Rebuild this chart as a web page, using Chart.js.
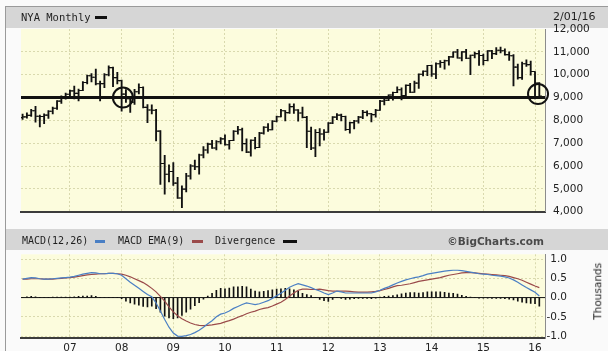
<!DOCTYPE html>
<html>
<head>
<meta charset="utf-8">
<script src="https://cdn.jsdelivr.net/npm/chart.js@4.4.1/dist/chart.umd.min.js"></script>
<style>
  html, body { margin:0; padding:0; background:#ffffff; }
  #page { position:relative; width:608px; height:351px; overflow:hidden; background:#fafafa; font-family:"DejaVu Sans", sans-serif; }
  .band { position:absolute; left:6px; width:602px; background:#d6d6d6; }
  .frameTop { position:absolute; left:5px; top:6px; width:603px; height:1px; background:#9a9a9a; }
  .frameLeft { position:absolute; left:5px; top:6px; width:1px; height:345px; background:#9a9a9a; }
  .txt { position:absolute; white-space:nowrap; line-height:1; color:#1e1e1e; }
  .mono { font-family:"DejaVu Sans Mono", monospace; }
  .dash { position:absolute; height:3px; }
  canvas { position:absolute; left:0; }
</style>
</head>
<body>
<div id="page">
  <div class="band" style="top:7px;height:21px;"></div>
  <div class="band" style="top:229px;height:21px;"></div>
  <div class="frameTop"></div>
  <div class="frameLeft"></div>
  <canvas id="priceChart" width="608" height="226" style="top:0px"></canvas>
  <canvas id="macdChart" width="608" height="106" style="top:245px"></canvas>

  <div class="txt mono" style="left:21px;top:12px;font-size:10.5px;">NYA Monthly</div>
  <div class="dash" style="left:95px;top:16px;width:12px;background:#111;"></div>
  <div class="txt" style="left:553px;top:11px;font-size:11px;">2/01/16</div>

  <div class="txt mono" style="left:22px;top:236px;font-size:10px;">MACD(12,26)</div>
  <div class="dash" style="left:95px;top:240px;width:10px;background:#4a7fc4;"></div>
  <div class="txt mono" style="left:118px;top:236px;font-size:10px;">MACD EMA(9)</div>
  <div class="dash" style="left:192px;top:240px;width:11px;background:#9a4a4a;"></div>
  <div class="txt mono" style="left:215px;top:236px;font-size:10px;">Divergence</div>
  <div class="dash" style="left:283px;top:240px;width:14px;background:#111;"></div>
  <div class="txt" style="right:64px;top:236px;font-size:10.5px;font-weight:bold;color:#4a4a4a;">©BigCharts.com</div>

  <div class="txt" style="left:569px;top:286px;width:57px;text-align:center;font-size:10.5px;transform:rotate(-90deg);transform-origin:center;">Thousands</div>
</div>

<script>
// ---------- DATA (monthly, Feb 2006 .. Feb 2016) ----------
const firstMonth = 1;               // month index of first bar (Jan 2006 = 0)
const yearTicks  = [12, 24, 36, 48, 60, 72, 84, 96, 108, 120];
const yearLabels = ['07','08','09','10','11','12','13','14','15','16'];
const priceTicks = [4000, 5000, 6000, 7000, 8000, 9000, 10000, 11000, 12000];
const macdTicks  = [-1.0, -0.5, 0.0, 0.5, 1.0];

const open = [
  8118, 8150, 8220, 8420, 8180, 8170, 8230, 8400, 8530, 8840, 9000,
  9140, 9290, 9180, 9310, 9660, 9950, 9890, 9600, 9610, 10000, 10310, 9870,
  9740, 9150, 8950, 8800, 9250, 9440, 8570, 8450, 8440, 7530, 6110, 5640,
  5760, 5250, 4600, 4990, 5560, 6000, 5970, 6480, 6700, 6960, 6790, 7060,
  7190, 6930, 7120, 7520, 7590, 6980, 6610, 7130, 6810, 7440, 7700, 7590,
  7960, 8160, 8420, 8340, 8600, 8450, 8320, 8130, 7520, 6790, 7470, 7400,
  7480, 7880, 8140, 8230, 8170, 7600, 7900, 7970, 8140, 8350, 8290, 8250,
  8440, 8840, 8880, 9110, 9220, 9340, 9090, 9530, 9230, 9630, 10020, 10150,
  10400, 10030, 10480, 10530, 10610, 10780, 10990, 10730, 11000, 10720, 10850, 10920,
  10840, 10620, 11040, 10920, 11070, 11050, 10880, 10830, 10330, 9870, 10480, 10440,
  10140, 9630
];
const high = [
  8270, 8330, 8480, 8610, 8230, 8290, 8430, 8580, 8870, 9070, 9190,
  9330, 9500, 9370, 9700, 9980, 10050, 10240, 9720, 10050, 10390, 10330, 10100,
  9760, 9350, 9050, 9360, 9600, 9470, 8690, 8680, 8480, 7550, 6470, 6050,
  6150, 5500, 5130, 5680, 6060, 6260, 6520, 6850, 7010, 7120, 7110, 7250,
  7370, 7130, 7550, 7740, 7660, 7190, 7150, 7260, 7470, 7730, 7860, 7990,
  8190, 8480, 8430, 8720, 8720, 8470, 8580, 8180, 7700, 7600, 7640, 7600,
  7900, 8160, 8300, 8280, 8190, 7920, 8000, 8180, 8440, 8420, 8310, 8480,
  8880, 8950, 9120, 9240, 9470, 9420, 9560, 9620, 9720, 10040, 10170, 10410,
  10420, 10520, 10620, 10640, 10800, 11000, 11110, 11010, 11110, 10860, 10990, 11050,
  10900, 11050, 11070, 11190, 11210, 11130, 11000, 10880, 10460, 10550, 10650, 10600,
  10140, 9650
];
const low = [
  8040, 8090, 8170, 7920, 7710, 7850, 8080, 8280, 8480, 8740, 8930,
  9050, 8940, 8850, 9300, 9600, 9680, 9550, 8850, 9430, 9950, 9480, 9600,
  8400, 8780, 8350, 8700, 9160, 8540, 7900, 8280, 7100, 5200, 4770, 5300,
  5150, 4580, 4180, 4870, 5420, 5840, 5640, 6350, 6560, 6770, 6700, 6970,
  6910, 6740, 7110, 7400, 6660, 6590, 6430, 6750, 6800, 7390, 7520, 7580,
  7930, 8150, 7970, 8300, 8300, 7960, 8110, 6800, 6720, 6410, 6880, 7130,
  7470, 7850, 8030, 7980, 7560, 7440, 7620, 7880, 8070, 8190, 7930, 8140,
  8440, 8680, 8860, 8880, 9210, 8890, 9080, 9210, 9220, 9400, 9950, 9960,
  9920, 9820, 10320, 10240, 10420, 10760, 10720, 10600, 10700, 10000, 10730, 10400,
  10430, 10600, 10700, 10880, 10950, 10850, 10620, 9510, 9800, 9790, 10360, 9980,
  8940, 8950
];
const close = [
  8150, 8220, 8420, 8180, 8170, 8230, 8400, 8530, 8840, 9000, 9140,
  9290, 9180, 9310, 9660, 9950, 9890, 9600, 9610, 10000, 10310, 9870, 9740,
  9150, 8950, 8800, 9250, 9440, 8570, 8450, 8440, 7530, 6110, 5640, 5760,
  5250, 4600, 4990, 5560, 6000, 5970, 6480, 6700, 6960, 6790, 7060, 7190,
  6930, 7120, 7520, 7590, 6980, 6610, 7130, 6810, 7440, 7700, 7590, 7960,
  8160, 8420, 8340, 8600, 8450, 8320, 8130, 7520, 6790, 7470, 7400, 7480,
  7880, 8140, 8230, 8170, 7600, 7900, 7970, 8140, 8350, 8290, 8250, 8440,
  8840, 8880, 9110, 9220, 9340, 9090, 9530, 9230, 9630, 10020, 10150, 10400,
  10030, 10480, 10530, 10610, 10780, 10990, 10730, 11000, 10720, 10850, 10920, 10840,
  10620, 11040, 10920, 11070, 11050, 10880, 10830, 10330, 9870, 10480, 10440, 10140,
  9630, 9060
];

const macd = [
  0.48, 0.50, 0.52, 0.51, 0.49, 0.48, 0.48, 0.49, 0.50, 0.51, 0.52,
  0.53, 0.55, 0.58, 0.61, 0.63, 0.65, 0.64, 0.62, 0.62, 0.63, 0.63, 0.62,
  0.58, 0.49, 0.40, 0.32, 0.24, 0.16, 0.08, 0.02, -0.14, -0.35, -0.57, -0.77,
  -0.92, -1.00, -1.01, -0.99, -0.96, -0.91, -0.85, -0.77, -0.68, -0.60, -0.50, -0.43,
  -0.40, -0.35, -0.28, -0.23, -0.18, -0.14, -0.16, -0.18, -0.16, -0.12, -0.08, -0.02,
  0.05, 0.11, 0.19, 0.27, 0.32, 0.36, 0.33, 0.30, 0.26, 0.21, 0.17, 0.12,
  0.08, 0.12, 0.17, 0.15, 0.12, 0.12, 0.12, 0.12, 0.12, 0.12, 0.12, 0.15,
  0.19, 0.24, 0.28, 0.33, 0.38, 0.42, 0.46, 0.49, 0.52, 0.54, 0.57, 0.61,
  0.63, 0.65, 0.67, 0.69, 0.70, 0.71, 0.71, 0.70, 0.68, 0.66, 0.64, 0.62,
  0.61, 0.60, 0.58, 0.57, 0.56, 0.54, 0.51, 0.46, 0.40, 0.33, 0.26, 0.20,
  0.14, 0.04
];
const macdEma = [
  0.48, 0.48, 0.49, 0.49, 0.49, 0.48, 0.48, 0.48, 0.49, 0.50, 0.51,
  0.52, 0.53, 0.55, 0.57, 0.59, 0.60, 0.61, 0.62, 0.62, 0.63, 0.63, 0.62,
  0.61, 0.58, 0.54, 0.49, 0.44, 0.39, 0.32, 0.24, 0.15, 0.03, -0.09, -0.24,
  -0.37, -0.47, -0.55, -0.61, -0.66, -0.70, -0.72, -0.73, -0.72, -0.71, -0.69, -0.67,
  -0.63, -0.60, -0.56, -0.51, -0.47, -0.42, -0.38, -0.35, -0.31, -0.28, -0.26, -0.22,
  -0.17, -0.12, -0.05, 0.04, 0.12, 0.19, 0.22, 0.22, 0.21, 0.21, 0.22, 0.20,
  0.18, 0.17, 0.17, 0.17, 0.17, 0.16, 0.15, 0.14, 0.14, 0.14, 0.15, 0.16,
  0.18, 0.21, 0.24, 0.28, 0.31, 0.32, 0.34, 0.36, 0.39, 0.42, 0.44, 0.46,
  0.48, 0.50, 0.52, 0.55, 0.58, 0.60, 0.62, 0.64, 0.65, 0.65, 0.64, 0.63,
  0.62, 0.61, 0.60, 0.59, 0.58, 0.57, 0.55, 0.52, 0.49, 0.45, 0.40, 0.35,
  0.30, 0.26
];
const divergence = [
  0.00, 0.02, 0.03, 0.02, 0.00, 0.00, 0.00, 0.01, 0.01, 0.01, 0.01,
  0.01, 0.02, 0.03, 0.04, 0.04, 0.05, 0.03, 0.00, 0.00, 0.00, 0.00, 0.00,
  -0.03, -0.09, -0.14, -0.17, -0.20, -0.23, -0.24, -0.22, -0.29, -0.38, -0.48, -0.53,
  -0.55, -0.53, -0.46, -0.38, -0.30, -0.21, -0.13, -0.04, 0.04, 0.11, 0.19, 0.24,
  0.23, 0.25, 0.28, 0.28, 0.29, 0.28, 0.22, 0.17, 0.15, 0.16, 0.18, 0.20,
  0.22, 0.23, 0.24, 0.23, 0.20, 0.17, 0.11, 0.08, 0.05, 0.00, -0.05, -0.08,
  -0.10, -0.05, 0.00, -0.02, -0.05, -0.04, -0.03, -0.02, -0.02, -0.02, -0.03, -0.01,
  0.01, 0.03, 0.04, 0.05, 0.07, 0.10, 0.12, 0.13, 0.13, 0.12, 0.13, 0.15,
  0.15, 0.15, 0.15, 0.14, 0.12, 0.11, 0.09, 0.06, 0.03, 0.01, 0.00, -0.01,
  -0.01, -0.01, -0.02, -0.02, -0.02, -0.03, -0.04, -0.06, -0.09, -0.12, -0.14, -0.15,
  -0.16, -0.22
];

const supportLevel = [9000];
const markedPoints = [ {x: 24.3, y: 9000}, {x: 120.7, y: 9150} ];

// ---------- helpers ----------
const months = close.map((_, i) => firstMonth + i);
const xMin = 0.63, xMax = 122.32;
const tickOffset = 0.3;
const gridColor = '#d9d9ae';
const plotColor = '#fcfcdd';
const fmtThousands = v => String(v).replace(/\B(?=(\d{3})+(?!\d))/g, ',');

const plotBackground = {
  id: 'plotBackground',
  beforeDraw(chart) {
    const {ctx, chartArea: a} = chart;
    ctx.save();
    ctx.fillStyle = plotColor;
    ctx.fillRect(a.left, a.top, a.right - a.left, a.bottom - a.top);
    ctx.restore();
  }
};

const tickFont = {family: 'DejaVu Sans', size: 10.5};

// ---------- price chart ----------
new Chart(document.getElementById('priceChart'), {
  type: 'bar',
  plugins: [plotBackground],
  data: {
    datasets: [
      {
        type: 'scatter', order: 0, clip: false,
        data: markedPoints,
        pointStyle: 'circle', pointRadius: 10,
        borderColor: '#111', borderWidth: 2, backgroundColor: 'rgba(0,0,0,0)'
      },
      {
        type: 'line', order: 1,
        data: supportLevel.flatMap(v => [{x: xMin, y: v}, {x: xMax, y: v}]),
        borderColor: '#111', borderWidth: 3, pointRadius: 0
      },
      {
        type: 'scatter', order: 2,
        data: months.map((m, i) => ({x: m - tickOffset, y: open[i]})),
        pointStyle: 'line', pointRadius: 1.3, borderColor: '#111', borderWidth: 1.1
      },
      {
        type: 'scatter', order: 2,
        data: months.map((m, i) => ({x: m + tickOffset, y: close[i]})),
        pointStyle: 'line', pointRadius: 1.3, borderColor: '#111', borderWidth: 1.1
      },
      {
        type: 'bar', order: 3,
        data: months.map((m, i) => ({x: m, y: [low[i], high[i]]})),
        backgroundColor: '#111', barThickness: 1.2, borderWidth: 0
      }
    ]
  },
  options: {
    responsive: false, animation: false, events: [],
    layout: {padding: {left: 21, top: 29, right: 0, bottom: 4}},
    plugins: {legend: {display: false}, tooltip: {enabled: false}},
    scales: {
      x: {
        type: 'linear', min: xMin, max: xMax, offset: false,
        afterBuildTicks: s => { s.ticks = yearTicks.map(v => ({value: v})); },
        afterFit: s => { s.height = 0; },
        ticks: {display: false},
        grid: {color: gridColor, lineWidth: 1, drawTicks: false, offset: false},
        border: {display: true, color: '#3c3c3c', width: 2, dash: [2, 2]}
      },
      y: {
        type: 'linear', position: 'right', min: 4000, max: 12000,
        afterBuildTicks: s => { s.ticks = priceTicks.map(v => ({value: v})); },
        afterFit: s => { s.width = 63; },
        ticks: {padding: 8, color: '#222', font: tickFont, callback: v => fmtThousands(v)},
        grid: {
          color: c => (c.tick && (c.tick.value === 12000 || c.tick.value === 4000)) ? 'rgba(0,0,0,0)' : gridColor,
          drawTicks: false
        },
        border: {display: true, color: '#8c8c8c', width: 1, dash: [2, 2]}
      }
    }
  }
});

// ---------- MACD chart ----------
new Chart(document.getElementById('macdChart'), {
  type: 'bar',
  plugins: [plotBackground],
  data: {
    datasets: [
      {
        type: 'line', order: 0,
        data: months.map((m, i) => ({x: m, y: macd[i]})),
        borderColor: '#4a7fc4', borderWidth: 1.2, pointRadius: 0, tension: 0
      },
      {
        type: 'line', order: 1,
        data: months.map((m, i) => ({x: m, y: macdEma[i]})),
        borderColor: '#9a4a4a', borderWidth: 1.2, pointRadius: 0, tension: 0
      },
      {
        type: 'line', order: 2,
        data: [{x: xMin, y: 0}, {x: xMax, y: 0}],
        borderColor: '#111', borderWidth: 1, pointRadius: 0
      },
      {
        type: 'bar', order: 3,
        data: months.map((m, i) => ({x: m, y: divergence[i]})),
        backgroundColor: '#111', barThickness: 1, borderWidth: 0
      }
    ]
  },
  options: {
    responsive: false, animation: false, events: [],
    layout: {padding: {left: 21, top: 6, right: 41, bottom: 0}},
    plugins: {legend: {display: false}, tooltip: {enabled: false}},
    scales: {
      x: {
        type: 'linear', min: xMin, max: xMax, offset: false,
        afterBuildTicks: s => { s.ticks = yearTicks.map(v => ({value: v})); },
        afterFit: s => { s.height = 13; },
        ticks: {
          padding: 4, color: '#222', font: tickFont, maxRotation: 0, autoSkip: false,
          callback: v => yearLabels[yearTicks.indexOf(v)]
        },
        grid: {color: gridColor, lineWidth: 1, drawTicks: false, offset: false},
        border: {display: true, color: '#3c3c3c', width: 2, dash: [2, 2]}
      },
      y: {
        type: 'linear', position: 'right', min: -1.05, max: 1.125,
        afterBuildTicks: s => { s.ticks = macdTicks.map(v => ({value: v})); },
        afterFit: s => { s.width = 22; },
        ticks: {padding: 3, crossAlign: 'far', color: '#222', font: tickFont, callback: v => v.toFixed(1)},
        grid: {
          color: c => (c.tick && c.tick.value === 0) ? 'rgba(0,0,0,0)' : gridColor,
          drawTicks: false
        },
        border: {display: true, color: '#8c8c8c', width: 1, dash: [2, 2]}
      }
    }
  }
});
</script>
</body>
</html>
